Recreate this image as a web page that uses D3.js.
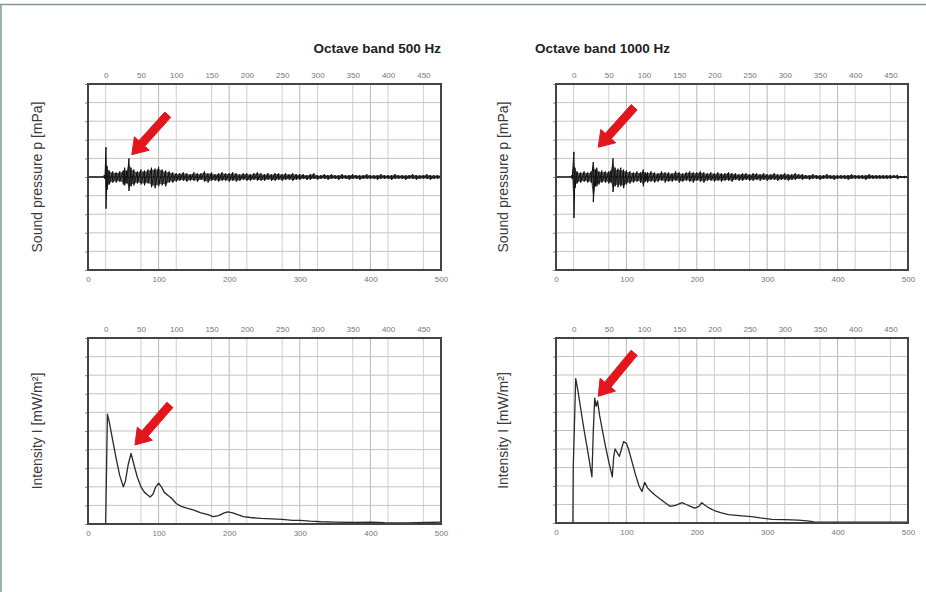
<!DOCTYPE html>
<html>
<head>
<meta charset="utf-8">
<script src="https://cdn.jsdelivr.net/npm/d3@7"></script>
<style>
  body { margin: 0; background: #fff; }
  text { font-family: "Liberation Sans", Arial, sans-serif; }
</style>
</head>
<body>
<div id="chart"></div>
<script>
// tick labels
var bottomTicks = [0, 100, 200, 300, 400, 500];
var topTicks = [0, 50, 100, 150, 200, 250, 300, 350, 400, 450];
var topOffset = 25; // top scale starts where the direct sound arrives

// sound pressure, 500 Hz (envelope per time step, in grid divisions)
var pTime500 = [0, 20, 24, 25.5, 27, 30, 35, 40, 45, 50, 52, 55, 58, 61, 65, 70, 75, 80, 85, 90, 95, 100, 105, 110, 115, 120, 125]
  .concat(d3.range(130, 505, 5));
var pHi500 = [0, 0, 0.1, 1.6, 0.6, 0.35, 0.3, 0.25, 0.3, 0.35, 0.5, 0.35, 1.0, 0.5, 0.4, 0.3, 0.4, 0.35, 0.4, 0.5, 0.45, 0.55, 0.4, 0.35, 0.3, 0.25, 0.2,
  0.2, 0.25, 0.2, 0.15, 0.25, 0.2, 0.2, 0.3, 0.2, 0.25, 0.15, 0.2, 0.25, 0.2, 0.2,
  0.25, 0.2, 0.15, 0.2, 0.2, 0.15, 0.2, 0.25, 0.2, 0.15, 0.2, 0.15, 0.2, 0.2, 0.15, 0.2, 0.15, 0.2, 0.15, 0.15,
  0.15, 0.1, 0.15, 0.2, 0.1, 0.1, 0.15, 0.1, 0.15, 0.1, 0.1, 0.15, 0.1, 0.1, 0.15, 0.1, 0.1, 0.1, 0.15, 0.1,
  0.1, 0.1, 0.15, 0.1, 0.1, 0.1, 0.15, 0.1, 0.1, 0.1, 0.1, 0.15, 0.1, 0.1, 0.1, 0.15, 0.1, 0.1, 0.1, 0.1];
var pLo500 = [0, 0, -0.1, -1.7, -0.7, -0.4, -0.3, -0.3, -0.25, -0.4, -0.45, -0.35, -0.75, -0.5, -0.45, -0.35, -0.4, -0.45, -0.35, -0.55, -0.6, -0.5, -0.45, -0.5, -0.3, -0.3, -0.25,
  -0.2, -0.2, -0.25, -0.2, -0.2, -0.25, -0.15, -0.25, -0.3, -0.2, -0.2, -0.25, -0.2, -0.2, -0.25,
  -0.2, -0.25, -0.2, -0.15, -0.2, -0.2, -0.15, -0.2, -0.2, -0.2, -0.15, -0.2, -0.2, -0.15, -0.2, -0.15, -0.15, -0.2, -0.15, -0.15,
  -0.1, -0.15, -0.15, -0.1, -0.15, -0.1, -0.1, -0.15, -0.1, -0.1, -0.15, -0.1, -0.1, -0.15, -0.1, -0.1, -0.15, -0.1, -0.1, -0.1,
  -0.1, -0.15, -0.1, -0.1, -0.1, -0.15, -0.1, -0.1, -0.1, -0.15, -0.1, -0.1, -0.15, -0.1, -0.1, -0.1, -0.15, -0.1, -0.1, -0.1];

// sound pressure, 1000 Hz
var pTime1000 = [0, 20, 23, 25.5, 27, 30, 35, 40, 45, 50, 53, 56, 58, 61, 65, 70, 75, 78, 81, 84, 88, 92, 96, 100, 105, 110, 115, 120, 124, 127]
  .concat(d3.range(130, 505, 5));
var pHi1000 = [0, 0, 0.1, 1.35, 0.5, 0.3, 0.25, 0.3, 0.25, 0.3, 0.8, 0.4, 0.5, 0.3, 0.35, 0.3, 0.3, 0.35, 1.0, 0.5, 0.45, 0.5, 0.4, 0.35, 0.3, 0.25, 0.3, 0.25, 0.4, 0.25,
  0.25, 0.3, 0.25, 0.2, 0.3, 0.25, 0.25, 0.2, 0.3, 0.25, 0.2, 0.25, 0.3, 0.25, 0.25,
  0.3, 0.25, 0.2, 0.25, 0.2, 0.25, 0.2, 0.2, 0.25, 0.2, 0.2, 0.15, 0.2, 0.2, 0.15, 0.2, 0.2, 0.15, 0.2, 0.15,
  0.15, 0.2, 0.15, 0.15, 0.2, 0.15, 0.15, 0.2, 0.15, 0.15, 0.1, 0.1, 0.15, 0.1, 0.1, 0.1, 0.15, 0.1, 0.1, 0.1,
  0.1, 0.1, 0.1, 0.15, 0.1, 0.1, 0.1, 0.1, 0.15, 0.1, 0.1, 0.1, 0.1, 0.1, 0.1, 0.1, 0.1, 0.05, 0.05, 0.05];
var pLo1000 = [0, 0, -0.1, -2.2, -0.6, -0.35, -0.3, -0.25, -0.3, -0.3, -1.35, -0.5, -0.5, -0.4, -0.3, -0.3, -0.35, -0.3, -0.8, -0.5, -0.55, -0.5, -0.6, -0.4, -0.35, -0.3, -0.25, -0.3, -0.5, -0.25,
  -0.3, -0.25, -0.3, -0.25, -0.2, -0.3, -0.25, -0.25, -0.2, -0.3, -0.25, -0.2, -0.25, -0.3, -0.2,
  -0.25, -0.3, -0.2, -0.2, -0.25, -0.2, -0.25, -0.2, -0.2, -0.25, -0.15, -0.2, -0.2, -0.15, -0.2, -0.2, -0.15, -0.2, -0.15, -0.2,
  -0.15, -0.15, -0.2, -0.15, -0.15, -0.2, -0.15, -0.15, -0.1, -0.15, -0.1, -0.15, -0.1, -0.1, -0.15, -0.1, -0.1, -0.1, -0.15, -0.1,
  -0.1, -0.1, -0.15, -0.1, -0.1, -0.1, -0.1, -0.15, -0.1, -0.1, -0.1, -0.1, -0.1, -0.1, -0.1, -0.05, -0.1, -0.05, -0.05, -0.05];

// intensity, 500 Hz (grid divisions)
var iTime500 = [0, 25, 25.5, 27.5, 30, 35, 40, 45, 50, 53, 57, 61, 65, 70, 75, 80, 85, 88, 92, 96, 100, 104, 108, 113, 118, 125, 132, 140, 150, 160, 170, 177, 185, 193, 198, 205, 212, 220, 230, 245, 260, 275, 290, 300, 315, 330, 350, 380, 400, 420, 450, 480, 500];
var iVal500 = [0, 0, 1.1, 5.9, 5.5, 4.5, 3.5, 2.6, 2.0, 2.3, 3.2, 3.8, 3.2, 2.5, 2.0, 1.7, 1.55, 1.45, 1.6, 2.0, 2.2, 2.0, 1.7, 1.55, 1.4, 1.1, 0.95, 0.85, 0.75, 0.6, 0.5, 0.4, 0.45, 0.6, 0.65, 0.6, 0.5, 0.4, 0.35, 0.3, 0.28, 0.25, 0.2, 0.2, 0.15, 0.12, 0.1, 0.08, 0.1, 0.07, 0.06, 0.08, 0.1];

// intensity, 1000 Hz
var iTime1000 = [0, 24, 24.5, 28, 31, 35, 40, 45, 51, 53, 55, 57, 59, 62, 66, 70, 75, 80, 82, 84, 87, 90, 93, 96, 100, 103, 108, 113, 118, 122, 126, 130, 135, 141, 148, 155, 162, 170, 179, 185, 191, 197, 203, 207, 212, 218, 226, 235, 245, 260, 278, 290, 307, 325, 344, 360, 368, 390, 420, 450, 480, 500];
var iVal1000 = [0, 0, 3.0, 7.8, 7.2, 6.2, 5.0, 3.9, 2.5, 5.0, 6.75, 6.3, 6.6, 5.8, 5.0, 4.2, 3.3, 2.5, 3.6, 4.0, 3.8, 3.6, 4.0, 4.4, 4.3, 4.0, 3.3, 2.6, 2.0, 1.7, 2.2, 1.9, 1.7, 1.5, 1.3, 1.1, 0.9, 0.95, 1.1, 1.0, 0.9, 0.8, 0.9, 1.1, 0.95, 0.8, 0.65, 0.55, 0.45, 0.4, 0.35, 0.28, 0.2, 0.18, 0.15, 0.1, 0.05, 0.04, 0.05, 0.04, 0.05, 0.05];

// red arrows: [tail, tip] in (time, divisions)
var arrowP500 = [[113, 3.35], [62, 1.2]];
var arrowI500 = [[116, 6.4], [66.5, 4.25]];
var arrowP1000 = [[111, 3.75], [60, 1.6]];
var arrowI1000 = [[111, 9.2], [60, 6.85]];

var titles = ["Octave band 500 Hz", "Octave band 1000 Hz"];
var yLabels = ["Sound pressure p [mPa]", "Intensity I [mW/m\u00b2]"];

var svgWidth = 926;
var svgHeight = 592;

var svg = d3.select("#chart")
  .append("svg")
  .attr("width", svgWidth)
  .attr("height", svgHeight);

// thin frame of the figure box
svg.append("line").attr("x1", 0).attr("x2", svgWidth).attr("y1", 4.5).attr("y2", 4.5)
  .attr("stroke", "#7f989e").attr("stroke-width", 1.5);
svg.append("line").attr("x1", 1).attr("x2", 1).attr("y1", 4).attr("y2", svgHeight)
  .attr("stroke", "#7f989e").attr("stroke-width", 1.5);

var panels = [
  { kind: "p", t: pTime500, hi: pHi500, lo: pLo500, arrow: arrowP500, x0: 88, x1: 441, y0: 84, y1: 270, label: yLabels[0], labelX: 42 },
  { kind: "i", t: iTime500, v: iVal500, arrow: arrowI500, x0: 88, x1: 441, y0: 338, y1: 524, label: yLabels[1], labelX: 42 },
  { kind: "p", t: pTime1000, hi: pHi1000, lo: pLo1000, arrow: arrowP1000, x0: 556, x1: 908, y0: 84, y1: 270, label: yLabels[0], labelX: 508 },
  { kind: "i", t: iTime1000, v: iVal1000, arrow: arrowI1000, x0: 556, x1: 908, y0: 338, y1: 523, label: yLabels[1], labelX: 508 }
];

panels.forEach(function(p) {
  var x = d3.scaleLinear().domain([0, 500]).range([p.x0, p.x1]);
  var xTop = d3.scaleLinear().domain([-topOffset, 500 - topOffset]).range([p.x0, p.x1]);
  var y = d3.scaleLinear()
    .domain(p.kind === "p" ? [-5, 5] : [0, 10])
    .range([p.y1, p.y0]);

  var g = svg.append("g");

  // grid
  g.selectAll(".gx").data(topTicks).enter().append("line")
    .attr("x1", d => xTop(d)).attr("x2", d => xTop(d))
    .attr("y1", p.y0).attr("y2", p.y1)
    .attr("stroke", "#cfcfcf").attr("stroke-width", 1);
  g.selectAll(".gxb").data(bottomTicks).enter().append("line")
    .attr("x1", d => x(d)).attr("x2", d => x(d))
    .attr("y1", p.y0).attr("y2", p.y1)
    .attr("stroke", "#b8b8b8").attr("stroke-width", 1);
  g.selectAll(".gy").data(y.ticks(10)).enter().append("line")
    .attr("x1", p.x0).attr("x2", p.x1)
    .attr("y1", d => y(d)).attr("y2", d => y(d))
    .attr("stroke", "#c4c4c4").attr("stroke-width", 1);

  // axes
  var bottomAxis = d3.axisBottom(x).tickValues(bottomTicks).tickSize(0).tickPadding(6);
  var topAxis = d3.axisTop(xTop).tickValues(topTicks).tickSize(0).tickPadding(6);
  var leftAxis = d3.axisLeft(y).ticks(10).tickSize(3).tickFormat("");

  [g.append("g").attr("transform", `translate(0, ${p.y1})`).call(bottomAxis),
   g.append("g").attr("transform", `translate(0, ${p.y0})`).call(topAxis),
   g.append("g").attr("transform", `translate(${p.x0}, 0)`).call(leftAxis)]
    .forEach(function(a) {
      a.select(".domain").remove();
      a.selectAll("text").attr("font-size", "8px").attr("fill", "#777")
        .attr("font-family", "Liberation Sans, Arial, sans-serif");
      a.selectAll("line").attr("stroke", "#888");
    });

  // data
  if (p.kind === "p") {
    g.append("line").attr("x1", p.x0).attr("x2", p.x1)
      .attr("y1", y(0)).attr("y2", y(0))
      .attr("stroke", "#111").attr("stroke-width", 1);
    var env = p.t.map((t, i) => [t, p.hi[i], p.lo[i]]);
    // dense oscillation drawn as a filled envelope plus the peak-to-peak trace
    g.append("path")
      .datum(env)
      .attr("fill", "#222")
      .attr("fill-opacity", 0.75)
      .attr("d", d3.area().x(d => x(d[0])).y0(d => y(d[2] * 0.8)).y1(d => y(d[1] * 0.8)));
    var pts = [];
    env.forEach(function(d) {
      pts.push([d[0], d[1]]);
      pts.push([d[0], d[2]]);
    });
    g.append("path")
      .datum(pts)
      .attr("fill", "none")
      .attr("stroke", "#111")
      .attr("stroke-width", 1)
      .attr("d", d3.line().x(d => x(d[0])).y(d => y(d[1])));
  } else {
    g.append("path")
      .datum(p.t.map((t, i) => [t, p.v[i]]))
      .attr("fill", "none")
      .attr("stroke", "#2a2a2a")
      .attr("stroke-width", 1.3)
      .attr("stroke-linejoin", "round")
      .attr("d", d3.line().x(d => x(d[0])).y(d => y(d[1])));
  }

  // plot frame
  g.append("rect")
    .attr("x", p.x0).attr("y", p.y0)
    .attr("width", p.x1 - p.x0).attr("height", p.y1 - p.y0)
    .attr("fill", "none").attr("stroke", "#444").attr("stroke-width", 2);

  // red arrow
  var tx = x(p.arrow[0][0]), ty = y(p.arrow[0][1]);
  var hx = x(p.arrow[1][0]), hy = y(p.arrow[1][1]);
  var len = Math.hypot(hx - tx, hy - ty);
  var ux = (hx - tx) / len, uy = (hy - ty) / len;
  var nx = -uy, ny = ux;
  var shaftW = 4, headW = 10, headL = 15;
  var bx = hx - ux * headL, by = hy - uy * headL;
  var arrowPts = [
    [tx + nx * shaftW, ty + ny * shaftW],
    [bx + nx * shaftW, by + ny * shaftW],
    [bx + nx * headW, by + ny * headW],
    [hx, hy],
    [bx - nx * headW, by - ny * headW],
    [bx - nx * shaftW, by - ny * shaftW],
    [tx - nx * shaftW, ty - ny * shaftW]
  ];
  g.append("polygon")
    .attr("points", arrowPts.map(d => d.join(",")).join(" "))
    .attr("fill", "#e3161d")
    .attr("stroke", "#e3161d")
    .attr("stroke-linejoin", "round")
    .attr("stroke-width", 1);

  // y axis label
  svg.append("text")
    .attr("transform", `translate(${p.labelX}, ${(p.y0 + p.y1) / 2}) rotate(-90)`)
    .attr("text-anchor", "middle")
    .attr("font-size", "14px")
    .attr("fill", "#3a3a3a")
    .text(p.label);
});

// panel titles
svg.append("text")
  .attr("x", 441).attr("y", 53)
  .attr("text-anchor", "end")
  .attr("font-size", "13.5px")
  .attr("font-weight", "bold")
  .attr("fill", "#222")
  .text(titles[0]);

svg.append("text")
  .attr("x", 535).attr("y", 53)
  .attr("text-anchor", "start")
  .attr("font-size", "13.5px")
  .attr("font-weight", "bold")
  .attr("fill", "#222")
  .text(titles[1]);
</script>
</body>
</html>
